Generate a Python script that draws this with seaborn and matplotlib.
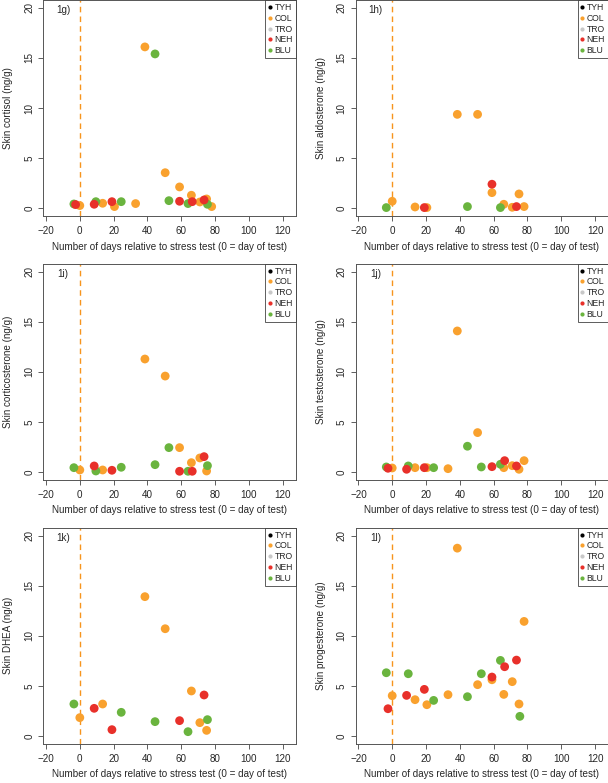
import numpy as np
import pandas as pd
import seaborn as sns
import matplotlib
matplotlib.use("Agg")
from matplotlib import pyplot as plt
from matplotlib.lines import Line2D

sns.set_theme(style="ticks")
plt.rcParams['font.family'] = ['Liberation Sans', 'DejaVu Sans']

nan = np.nan

# Days relative to stress test for each group
col_days = [0, 13.5, 20.5, 33, 38.5, 50.5, 59, 66, 71, 75, 78]
blu_days = [-3.5, 9.5, 24.5, 44.5, 52.7, 64, 75.5]
neh_days = [-2.5, 8.5, 19, 59, 66.5, 73.5]

# Hormone values (ng/g) per group, NaN = not measured
cortisol_col = [0.27, 0.5, 0.17, 0.47, 16.1, 3.55, 2.13, 1.3, 0.63, 0.93, 0.17]
cortisol_blu = [0.43, 0.66, 0.66, 15.4, 0.76, 0.47, 0.4]
cortisol_neh = [0.37, 0.4, 0.66, 0.7, 0.66, 0.83]

aldosterone_col = [0.7, 0.13, 0.07, nan, 9.37, 9.37, 1.56, 0.4, 0.1, 1.43, 0.17]
aldosterone_blu = [0.07, nan, nan, 0.17, nan, 0.07, nan]
aldosterone_neh = [nan, nan, 0.07, 2.4, nan, 0.17]

corticosterone_col = [0.2, 0.2, nan, nan, 11.27, 9.57, 2.43, 0.93, 1.4, 0.1, nan]
corticosterone_blu = [0.43, 0.1, 0.47, 0.73, 2.43, 0.07, 0.63]
corticosterone_neh = [nan, 0.6, 0.17, 0.07, 0.07, 1.53]

testosterone_col = [0.4, 0.43, 0.43, 0.33, 14.07, 3.93, nan, 0.43, 0.63, 0.27, 1.13]
testosterone_blu = [0.5, 0.6, 0.43, 2.57, 0.5, 0.77, nan]
testosterone_neh = [0.37, 0.27, 0.43, 0.53, 1.13, 0.6]

dhea_col = [1.83, 3.19, nan, nan, 13.9, 10.7, nan, 4.49, 1.33, 0.56, nan]
dhea_blu = [3.19, nan, 2.36, 1.43, nan, 0.43, 1.63]
dhea_neh = [nan, 2.76, 0.63, 1.53, nan, 4.09]

progesterone_col = [4.02, 3.62, 3.12, 4.12, 18.74, 5.12, 5.61, 4.15, 5.42, 3.19, 11.43]
progesterone_blu = [6.31, 6.21, 3.55, 3.92, 6.21, 7.54, 1.96]
progesterone_neh = [2.72, 4.05, 4.65, 5.88, 6.91, 7.57]

panels = [
    ("1g)", "Skin cortisol (ng/g)", cortisol_col, cortisol_blu, cortisol_neh),
    ("1h)", "Skin aldosterone (ng/g)", aldosterone_col, aldosterone_blu, aldosterone_neh),
    ("1i)", "Skin corticosterone (ng/g)", corticosterone_col, corticosterone_blu, corticosterone_neh),
    ("1j)", "Skin testosterone (ng/g)", testosterone_col, testosterone_blu, testosterone_neh),
    ("1k)", "Skin DHEA (ng/g)", dhea_col, dhea_blu, dhea_neh),
    ("1l)", "Skin progesterone (ng/g)", progesterone_col, progesterone_blu, progesterone_neh),
]

groups = ["TYH", "COL", "TRO", "NEH", "BLU"]
palette = {"TYH": "#000000", "COL": "#F9A12E", "TRO": "#C8C8C8", "NEH": "#E8302A", "BLU": "#6AB43E"}

fig = plt.figure(figsize=(6.08, 7.83), dpi=100)

# axes positions in pixels (left, bottom of plot box)
col_left = [43.3, 355.7]
row_bottom = [215.8, 479.5, 743.5]
ax_w, ax_h = 252.4, 216.0
fs = 7.1

for i, (tag, ylabel, v_col, v_blu, v_neh) in enumerate(panels):
    r, c = divmod(i, 2)
    ax = fig.add_axes([col_left[c] / 608, (783 - row_bottom[r]) / 783, ax_w / 608, ax_h / 783])

    df = pd.concat([
        pd.DataFrame({"day": col_days, "value": v_col, "group": "COL"}),
        pd.DataFrame({"day": blu_days, "value": v_blu, "group": "BLU"}),
        pd.DataFrame({"day": neh_days, "value": v_neh, "group": "NEH"}),
    ]).dropna()

    # stress test day
    ax.axvline(0, color="#F7941D", linestyle=(0, (4, 3)), linewidth=1.0, zorder=1)
    sns.scatterplot(data=df, x="day", y="value", hue="group", palette=palette,
                    s=40, linewidth=0, legend=False, ax=ax, zorder=3)

    ax.set_xlim(-21.6, 127.7)
    ax.set_ylim(-0.75, 20.8)
    ax.set_xticks(range(-20, 121, 20))
    ax.set_yticks(range(0, 21, 5))
    ax.set_yticklabels([str(v) for v in range(0, 21, 5)], rotation=90, va="center")
    ax.tick_params(labelsize=fs, length=3.5, width=0.6, color="#444444")
    ax.tick_params(axis="x", pad=4)
    ax.tick_params(axis="y", pad=3)
    ax.set_xlabel("Number of days relative to stress test (0 = day of test)", fontsize=fs, labelpad=4)
    ax.set_ylabel(ylabel, fontsize=fs, labelpad=8)
    for sp in ax.spines.values():
        sp.set_color("#555555")
        sp.set_linewidth(0.7)

    ax.text(-10, 19.75, tag, fontsize=fs, ha="center", va="center")

    handles = [Line2D([], [], marker="o", linestyle="", markersize=3,
                      markerfacecolor=palette[g], markeredgewidth=0) for g in groups]
    leg = ax.legend(handles, groups, loc="upper right", borderaxespad=0, fontsize=6.2,
                    frameon=True, fancybox=False, handlelength=0.3, handletextpad=0.4,
                    labelspacing=0.22, borderpad=0.35)
    leg.get_frame().set_edgecolor("#333333")
    leg.get_frame().set_linewidth(0.7)

fig.savefig("out.png", dpi=100)
